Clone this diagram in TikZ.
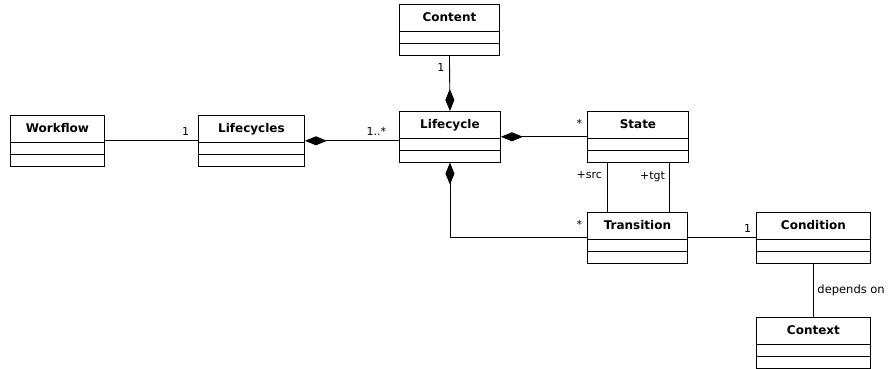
\documentclass[tikz,border=0pt]{standalone}
\usepackage{fontspec}
\setmainfont{DejaVu Sans}
\usetikzlibrary{shapes.multipart, arrows.meta}

\newcommand{\classname}[1]{\rule[-9pt]{0pt}{26pt}\textbf{#1}}

\tikzset{
    umlclass/.style={draw, anchor=north west, rectangle split, rectangle split parts=3,
        inner ysep=0pt, rectangle split empty part height=11pt,
        rectangle split empty part depth=0pt, font=\fontsize{12}{14}\selectfont},
    comp/.style={-{Diamond[length=22pt, width=9pt]}},
    mult/.style={font=\fontsize{11}{13}\selectfont, inner sep=0pt, outer sep=5pt}
}

\begin{document}
\begin{tikzpicture}[x=1pt, y=-1pt, line width=0.9pt]
    \useasboundingbox (0, 0) rectangle (888, 369);

    \node[umlclass, minimum width=94] at (10, 115) (workflow) {\classname{Workflow}\nodepart{two}\nodepart{three}};
    \node[umlclass, minimum width=106] at (198, 115) (lifecycles) {\classname{Lifecycles}\nodepart{two}\nodepart{three}};
    \node[umlclass, minimum width=100] at (399, 4) (content) {\classname{Content}\nodepart{two}\nodepart{three}};
    \node[umlclass, minimum width=101] at (399, 111) (lifecycle) {\classname{Lifecycle}\nodepart{two}\nodepart{three}};
    \node[umlclass, minimum width=101] at (587, 111) (state) {\classname{State}\nodepart{two}\nodepart{three}};
    \node[umlclass, minimum width=100] at (587, 212) (transition) {\classname{Transition}\nodepart{two}\nodepart{three}};
    \node[umlclass, minimum width=114] at (756, 212) (condition) {\classname{Condition}\nodepart{two}\nodepart{three}};
    \node[umlclass, minimum width=114] at (756, 317) (context) {\classname{Context}\nodepart{two}\nodepart{three}};

    \coordinate (src) at ([xshift=20pt]state.south west);
    \coordinate (tgt) at ([xshift=-19pt]state.south east);

    \draw (workflow.east) -- (lifecycles.west) node[mult, pos=1, anchor=south east, xshift=-4pt] {1};
    \draw[comp] (lifecycles.east -| lifecycle.west) -- (lifecycles.east) node[mult, pos=0, anchor=south east, xshift=-8pt] {1..*};
    \draw[comp] (content.south) -- (lifecycle.north) node[mult, pos=0, anchor=north east, yshift=-3pt] {1};
    \draw[comp] (state.west) -- (lifecycle.east) node[mult, pos=0, anchor=south east, yshift=4pt] {*};
    \draw[comp] (transition.west) -| (lifecycle.south) node[mult, pos=0, anchor=south east, yshift=4pt] {*};
    \draw (src) -- (src |- transition.north) node[mult, pos=0, anchor=north east, yshift=-4pt] {+src};
    \draw (tgt) -- (tgt |- transition.north) node[mult, pos=0, anchor=north east, yshift=-4pt] {+tgt};
    \draw (transition.east) -- (condition.west) node[mult, pos=1, anchor=south east] {1};
    \draw (condition.south) -- (context.north) node[mult, midway, anchor=west, outer sep=4pt, font=\fontsize{11.5}{13}\selectfont] {depends on};
\end{tikzpicture}
\end{document}
